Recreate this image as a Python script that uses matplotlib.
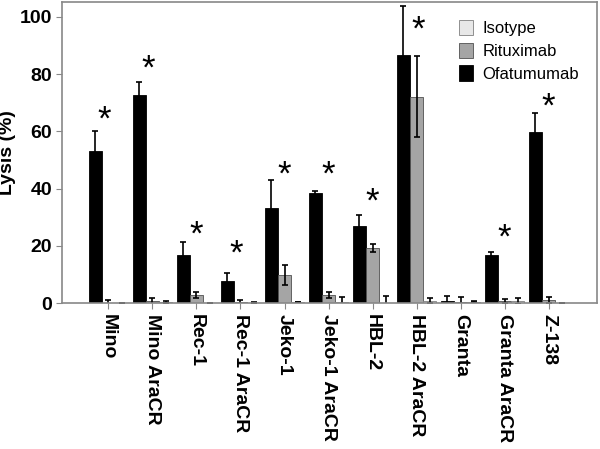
import numpy as np
import matplotlib.pyplot as plt

plt.rcParams['font.family'] = ['Liberation Sans', 'DejaVu Sans']

cells = ['Mino', 'Mino AraCR', 'Rec-1', 'Rec-1 AraCR', 'Jeko-1', 'Jeko-1 AraCR',
         'HBL-2', 'HBL-2 AraCR', 'Granta', 'Granta AraCR', 'Z-138']

ofatumumab = [53.2, 72.7, 16.9, 7.6, 33.4, 38.5, 27.0, 86.8, 0.8, 16.9, 59.8]
ofatumumab_err = [7.0, 4.6, 4.4, 2.9, 9.7, 0.6, 3.8, 17.0, 1.8, 1.1, 6.5]
rituximab = [0.2, 0.6, 2.9, 0.3, 9.7, 2.8, 19.2, 72.2, 0.3, 0.8, 1.2]
rituximab_err = [1.0, 1.2, 1.1, 0.8, 3.5, 1.1, 1.5, 14.3, 1.8, 0.6, 1.0]
isotype = [0.2, 0.3, 0.2, 0.2, 0.3, 0.5, 0.2, 0.8, 0.5, 0.8, 0.2]
isotype_err = [0.0, 0.3, 0.0, 0.2, 0.0, 1.5, 2.2, 0.8, 0.2, 1.0, 0.0]

star_x = [-0.1, 0.9, 2.0, 2.9, 4.0, 5.0, 6.0, 7.03, 9.0, 10.0]
star_y = [63.8, 81.6, 23.6, 17.2, 44.9, 44.6, 35.2, 95.3, 22.7, 68.5]

x = np.arange(len(cells))
w = 0.3

fig = plt.figure(figsize=(6, 4.49), dpi=100)
ax = fig.add_axes([0.103, 0.325, 0.892, 0.671])

ekw = dict(elinewidth=1.2, capsize=2, capthick=1.2, ecolor='black')
ax.bar(x - w, ofatumumab, w, yerr=ofatumumab_err, color='black', edgecolor='black',
       linewidth=0.6, error_kw=ekw, label='Ofatumumab', zorder=2)
ax.bar(x, rituximab, w, yerr=rituximab_err, color='#a5a5a5', edgecolor='#505050',
       linewidth=0.6, error_kw=ekw, label='Rituximab', zorder=2)
ax.bar(x + w, isotype, w, yerr=isotype_err, color='#e8e8e8', edgecolor='#808080',
       linewidth=0.6, error_kw=ekw, label='Isotype', zorder=2)

for sx, sy in zip(star_x, star_y):
    ax.text(sx, sy, '*', ha='center', va='center', fontsize=25, color='black')

ax.set_xlim(-1.06, 11.1)
ax.set_ylim(0, 105.3)
ax.set_yticks([0, 20, 40, 60, 80, 100])
ax.set_xticks(x)
ax.set_xticklabels(cells, rotation=270, fontsize=14, fontweight='bold')
ax.tick_params(axis='y', labelsize=14, length=4, color='#888888', pad=3)
ax.tick_params(axis='x', length=4, color='#888888', pad=4)
for lab in ax.get_yticklabels():
    lab.set_fontweight('bold')
ax.set_ylabel('Lysis (%)', fontsize=14, fontweight='bold', labelpad=3)
for s in ax.spines.values():
    s.set_color('#888888')
    s.set_linewidth(1.2)

h, l = ax.get_legend_handles_labels()
ax.legend(h[::-1], l[::-1], loc='upper right', bbox_to_anchor=(0.995, 0.99),
          frameon=False, fontsize=12, handlelength=0.8, handleheight=1.05,
          handletextpad=0.6, labelspacing=0.38)

fig.savefig('out.png', dpi=100)
